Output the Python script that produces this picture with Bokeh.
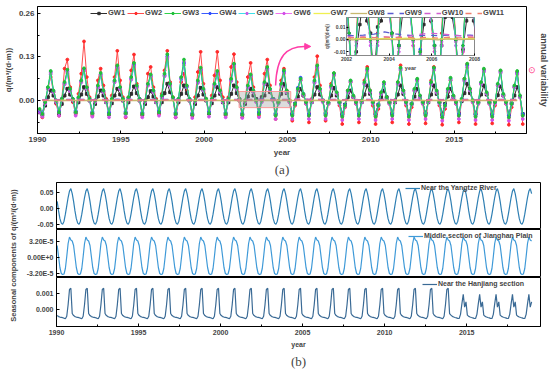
import numpy as np
from bokeh.plotting import figure
from bokeh.layouts import column, row
from bokeh.models import (Range1d, FixedTicker, NumeralTickFormatter, CustomJSTickFormatter,
                          Legend, LegendItem, BoxAnnotation, Label, Title, Arrow, NormalHead)
from bokeh.embed import file_html
from bokeh.resources import INLINE

# ---------------------------------------------------------------- data (a)
# q in 1e-3 m3/(d*m); six readings per year (Feb, Apr, Jun, Aug, Oct, Dec) 1990-2018, last = Feb 2019
YEARS_A = list(range(1990, 2019))
MONTHS_A = [2, 4, 6, 8, 10, 12]
GW1 = [-35,-42,-15,10,30,15, -5,-38,-10,15,35,18, 0,-35,-5,18,40,20, 0,-38,-10,12,30,15,
       -5,-40,-8,15,35,18, 0,-38,-5,20,42,22, 0,-40,-10,10,28,12, -5,-35,-5,22,50,25,
       5,-40,-5,20,45,22, 0,-42,-10,15,38,18, 0,-38,-8,15,40,20, -5,-40,-5,20,45,22,
       0,-42,-10,12,35,15, 5,-35,10,15,48,25, 5,-40,-5,20,50,22, 0,-40,-10,12,35,15,
       -5,-40,-5,18,40,18, 0,-38,-8,15,38,15, -5,-40,-12,10,30,10, -5,-38,-5,18,45,20,
       -5,-40,-12,10,30,10, -5,-38,-5,18,45,20, -5,-40,-10,12,35,12, -5,-38,-5,18,45,20,
       -5,-40,-10,12,35,12, -5,-38,-2,22,50,22, 0,-40,-5,18,45,18, -5,-40,-5,16,42,15,
       -5,-42,-8,15,40,12, -40]
GW2 = [-30,-50,-5,35,70,25, -10,-45,5,95,122,40, -5,-40,20,80,176,70, 10,-45,0,60,95,45,
       5,-40,15,70,148,60, 10,-50,10,90,137,50, 5,-45,0,80,100,40, 5,-40,20,90,148,55,
       10,-50,-5,55,80,30, 0,-45,10,85,145,50, 5,-40,15,75,145,60, 10,-45,10,100,138,55,
       5,-50,0,70,112,40, 0,-45,5,80,122,45, 5,-55,0,60,95,30, -5,-60,-15,30,60,15,
       -10,-65,5,70,132,45, 0,-60,-10,50,80,20, -15,-70,-20,30,55,10, -10,-65,0,60,100,30,
       -15,-70,-25,20,50,5, -10,-65,-5,55,105,30, -15,-70,-20,30,62,10, -10,-68,0,60,100,25,
       -15,-72,-25,25,60,5, -10,-65,0,65,108,35, -5,-70,-10,50,92,20, -10,-68,-15,45,88,15,
       -10,-72,-20,40,85,10, -70]
GW3 = [-25,-40,-5,40,88,30, 0,-35,5,55,92,35, 5,-35,10,60,96,40, 5,-38,0,45,82,30,
       0,-40,5,60,105,40, 5,-38,10,70,112,45, 5,-40,0,50,78,30, 0,-35,15,80,138,50,
       10,-40,5,70,122,45, 5,-42,0,60,98,35, 5,-38,5,50,88,30, 0,-40,5,65,110,40,
       5,-42,0,45,78,30, 0,-40,0,55,100,35, 5,-45,-5,50,90,30, 0,-45,-10,35,65,20,
       -5,-45,0,60,105,35, 0,-45,-5,45,82,25, -5,-48,-15,30,60,15, -5,-45,0,55,95,30,
       -5,-48,-15,25,55,10, -5,-45,0,55,98,30, -5,-48,-10,35,65,15, -5,-45,0,55,98,30,
       -5,-50,-15,35,68,15, -5,-45,5,65,110,35, 0,-48,-5,55,95,25, -5,-48,-5,50,90,20,
       -5,-50,-10,45,88,15, -45]
GW4 = [-30,-35,-5,38,85,28, 0,-32,5,52,88,32, 5,-30,8,58,94,38, 5,-33,0,42,78,28,
       0,-35,5,58,100,38, 5,-33,8,66,106,42, 5,-35,0,48,74,28, 0,-30,12,76,132,48,
       8,-35,5,66,112,42, 5,-37,0,56,92,33, 5,-33,5,48,82,28, 0,-35,5,62,108,38,
       5,-37,0,42,74,28, 0,-35,0,52,95,33, 5,-40,-5,48,85,28, 0,-40,-8,38,68,20,
       -5,-40,0,56,100,33, 0,-40,-5,42,78,23, -5,-42,-12,28,58,13, -5,-40,0,52,92,28,
       -5,-42,-12,22,50,8, -5,-40,0,52,95,28, -5,-42,-8,32,62,13, -5,-40,0,52,96,28,
       -5,-45,-12,32,65,13, -5,-40,5,62,105,33, 0,-42,-5,52,90,23, -5,-42,-5,48,86,18,
       -5,-45,-8,42,82,13, -40]
GW5 = [-28,-38,-8,36,82,26, -2,-36,3,50,86,30, 3,-36,6,56,90,36, 3,-38,-2,40,76,26,
       -2,-40,3,56,98,36, 3,-38,6,64,104,40, 3,-40,-2,46,72,26, -2,-36,10,74,128,46,
       6,-40,3,68,116,44, 3,-42,-2,56,94,32, 3,-38,3,46,80,26, -2,-40,3,60,104,36,
       3,-42,-2,40,72,26, -2,-40,-2,50,92,32, 3,-45,-7,46,82,26, -2,-45,-10,34,62,18,
       -7,-45,-2,54,98,32, -2,-45,-7,40,76,22, -7,-48,-15,26,56,12, -7,-45,-2,50,90,26,
       -7,-48,-15,22,52,8, -7,-45,-2,50,92,26, -7,-48,-10,30,60,12, -7,-45,-2,50,92,26,
       -7,-50,-15,30,62,12, -7,-45,3,60,100,32, -2,-48,-7,50,88,22, -7,-48,-7,46,84,16,
       -7,-50,-10,40,80,12, -45]
GW6 = [-35,-48,-10,34,78,24, -5,-45,0,48,82,28, 0,-45,4,54,88,34, 0,-48,-5,38,72,24,
       -5,-50,0,54,96,34, 0,-48,4,62,100,38, 0,-50,-5,44,70,24, -5,-45,8,72,124,44,
       4,-50,0,62,106,40, 0,-52,-5,52,90,30, 0,-48,0,44,78,24, -5,-50,0,58,100,34,
       0,-52,-5,38,70,24, -5,-50,-5,48,90,30, 0,-55,-10,44,80,24, -5,-55,-12,32,60,16,
       -10,-55,-5,52,95,30, -5,-55,-10,38,74,20, -10,-58,-18,24,54,10, -10,-55,-5,48,88,24,
       -10,-58,-18,20,48,6, -10,-55,-5,48,90,24, -10,-58,-12,28,58,10, -10,-55,-5,48,90,24,
       -10,-60,-18,28,60,10, -10,-55,0,58,98,30, -5,-58,-10,48,85,20, -10,-58,-10,44,82,14,
       -10,-60,-12,38,78,10, -55]
# near-zero wells: two readings per year (Apr, Oct), 1e-3 m3/(d*m)
MONTHS_M = [4, 10]
GW7 = [0.3,0.8, 0.2,0.9, 0.3,0.8, 0.4,0.9, 0.2,0.7, 0.3,0.8, 0.4,0.9, 0.3,1.0, 0.2,0.8, 0.3,0.7,
       0.4,0.8, 0.3,0.9, 0.2,0.8, 0.3,0.9, 0.4,1.0, 0.3,0.8, 0.2,0.7, 0.3,0.8, 0.4,0.9, 0.3,0.8,
       0.2,0.7, 0.3,0.9, 0.4,0.8, 0.3,0.8, 0.2,0.7, 0.3,0.9, 0.4,0.8, 0.3,0.7, 0.2,0.8]
GW8 = [-0.3,0.3, -0.2,0.4, -0.3,0.2, -0.1,0.3, -0.2,0.4, -0.3,0.3, -0.2,0.2, -0.1,0.4, -0.3,0.3, -0.2,0.2,
       -0.1,0.3, -0.2,0.4, -0.3,0.2, -0.2,0.3, -0.1,0.2, -0.2,0.3, -0.3,0.4, -0.2,0.3, -0.1,0.2, -0.2,0.3,
       -0.3,0.4, -0.2,0.3, -0.1,0.2, -0.2,0.3, -0.3,0.4, -0.2,0.3, -0.1,0.2, -0.2,0.3, -0.3,0.2]
GW9 = [2.8,3.6, 2.9,3.8, 3.0,3.7, 2.8,3.5, 3.0,3.9, 3.1,3.8, 2.9,3.6, 3.0,3.8, 3.1,3.9, 2.9,3.7,
       3.0,3.6, 3.1,3.8, 3.0,3.4, 4.2,6.0, 4.5,3.4, 3.0,3.3, 3.1,3.4, 3.0,3.5, 2.9,3.6, 3.0,3.7,
       3.1,3.6, 3.0,3.8, 2.9,3.7, 3.0,3.6, 3.1,3.8, 3.0,3.7, 2.9,3.6, 3.0,3.8, 3.1,3.7]
GW10 = [1.8,2.6, 1.9,2.8, 2.0,2.7, 1.8,2.5, 2.0,2.9, 2.1,2.8, 1.9,2.6, 2.0,2.8, 2.1,2.9, 1.9,2.7,
        2.0,2.6, 2.1,2.8, 1.6,2.0, 1.5,2.1, 1.7,2.2, 3.6,5.0, 4.6,3.8, 3.0,2.8, 2.2,2.7, 2.0,2.8,
        2.1,2.6, 2.0,2.8, 1.9,2.7, 2.0,2.6, 2.1,2.8, 2.0,2.7, 1.9,2.6, 2.0,2.8, 2.1,2.7]
GW11 = [1.2,1.8, 1.3,1.9, 1.2,1.7, 1.1,1.8, 1.3,1.9, 1.2,1.8, 1.1,1.7, 1.2,1.9, 1.3,1.8, 1.2,1.7,
        1.1,1.8, 1.2,1.9, 1.3,1.8, 1.4,1.9, 1.3,1.8, 1.2,1.7, 1.1,1.8, 1.2,1.9, 1.3,1.8, 1.2,1.7,
        1.1,1.8, 1.2,1.9, 1.3,1.8, 1.2,1.7, 1.1,1.8, 1.2,1.9, 1.3,1.8, 1.2,1.7, 1.1,1.8]
A_XTICKS = [1990, 1995, 2000, 2005, 2010, 2015]
A_YTICKS = [0.0, 0.13, 0.26]
INSET_XTICKS = [2002, 2004, 2006, 2008]
INSET_YTICKS = [-0.01, 0.0, 0.01]

# ---------------------------------------------------------------- data (b)
YEARS_B = list(range(1990, 2019))
YANGTZE_CYCLE = [22, -8, -32, -46, -50, -40, -18, 8, 34, 54, 62, 46]          # 1e-3, Jan..Dec
JIANGHAN_CYCLE = [24, 2, -20, -32, -34, -33, -22, 2, 28, 41, 35, 33]           # 1e-6, Jan..Dec
HANJIANG_CYCLE_1990_2013 = [-380, -440, -470, -490, -510, -540, -580, -420, 300, 1250, 1330, -250]  # 1e-6
HANJIANG_CYCLE_2014_2018 = [-350, -430, -470, -500, -520, -550, -560, -300, 350, 950, 150, 480]     # 1e-6
B1_TICKS = [-0.05, 0.0, 0.05]
B2_TICKS = [-3.2e-5, 0.0, 3.2e-5]
B3_TICKS = [0.0, 0.001]

FONT = "Liberation Sans"

t_a = [y + (m - 0.5) / 12 for y in YEARS_A for m in MONTHS_A] + [2019 + 1.5 / 12]
t_m = [y + (m - 0.5) / 12 for y in YEARS_A for m in MONTHS_M]
t_b = [y + (m + 0.5) / 12 for y in YEARS_B for m in range(12)]

yangtze = np.tile(YANGTZE_CYCLE, len(YEARS_B)) / 1e3
jianghan = np.tile(JIANGHAN_CYCLE, len(YEARS_B)) / 1e6
hanjiang = np.concatenate([np.tile(HANJIANG_CYCLE_1990_2013, 24),
                           np.tile(HANJIANG_CYCLE_2014_2018, 5)]) / 1e6


def style(p, fs="8px"):
    p.outline_line_color = "black"
    p.xgrid.visible = False
    p.ygrid.visible = False
    p.background_fill_color = "white"
    for ax in p.axis:
        ax.major_label_text_font = FONT
        ax.major_label_text_font_style = "bold"
        ax.major_label_text_font_size = fs
        ax.axis_label_text_font = FONT
        ax.axis_label_text_font_style = "bold"
        ax.axis_label_text_font_size = fs
        ax.major_tick_in = 3
        ax.major_tick_out = 0
        ax.minor_tick_in = 2
        ax.minor_tick_out = 0
        ax.axis_line_color = "black"
        ax.major_label_standoff = 3
        ax.axis_label_standoff = 3


SER_A = [
    ("GW1", GW1, "#2d2d2d", "#2d2d2d", "square"),
    ("GW2", GW2, "#ff4a4a", "#ff2a2a", "circle"),
    ("GW3", GW3, "#2fd24a", "#1fbf3a", "circle"),
    ("GW4", GW4, "#3a5cff", "#2f4fff", "circle"),
    ("GW5", GW5, "#3ce0e8", "#c65ce8", "circle"),
    ("GW6", GW6, "#f070f0", "#d050e8", "circle"),
]
SER_M = [
    ("GW7", GW7, "#f0f050", "solid"),
    ("GW8", GW8, "#c8b870", "solid"),
    ("GW9", GW9, "#5a5ad0", "dashed"),
    ("GW10", GW10, "#d060d0", "dashed"),
    ("GW11", GW11, "#f08070", "dashed"),
]


def draw_series(p, msize, lw):
    rend = {}
    order = ["GW2", "GW1", "GW6", "GW4", "GW5", "GW3"]
    lookup = {s[0]: s for s in SER_A}
    for name in order:
        _, vals, lc, mc, mk = lookup[name]
        y = np.array(vals) / 1e3
        rl = p.line(t_a, y, line_color=lc, line_width=lw)
        rs = p.scatter(t_a, y, marker=mk, size=msize, fill_color=mc, line_color=mc)
        rend[name] = [rl, rs]
    for name, vals, lc, dash in SER_M:
        r = p.line(t_m, np.array(vals) / 1e3, line_color=lc, line_width=lw * 1.3, line_dash=dash)
        rend[name] = [r]
    return rend


# ---------------------------------------------------------------- panel (a)
pa = figure(width=550, height=180, x_range=Range1d(1990, 2019.35), y_range=Range1d(-0.098, 0.28),
            output_backend="svg", toolbar_location=None,
            min_border_left=35, min_border_right=22, min_border_top=6, min_border_bottom=47)
style(pa, "8px")
pa.xaxis.ticker = FixedTicker(ticks=A_XTICKS, minor_ticks=[1992.5, 1997.5, 2002.5, 2007.5, 2012.5, 2017.5])
pa.yaxis.ticker = FixedTicker(ticks=A_YTICKS, minor_ticks=[-0.065, 0.065, 0.195])
pa.yaxis.formatter = NumeralTickFormatter(format="0.00")
pa.xaxis.axis_label = "year"
pa.yaxis.axis_label = "q/(m³/(d·m))"

rend = draw_series(pa, 2.8, 1)

pa.add_layout(BoxAnnotation(left=2002.1, right=2005.2, bottom=-0.021, top=0.027,
                            fill_color="#9a9a9a", fill_alpha=0.35, line_color="#ff9090", line_alpha=0.9))
pa.bezier(x0=[2004.29], y0=[0.045], x1=[2006.2], y1=[0.161], cx0=[2004.35], cy0=[0.13],
          cx1=[2004.9], cy1=[0.165], line_color="#ff3da8", line_width=1.5)
pa.add_layout(Arrow(end=NormalHead(size=6, fill_color="#ff3da8", line_color="#ff3da8"),
                    x_start=2006.0, y_start=0.161, x_end=2006.4, y_end=0.161,
                    line_color="#ff3da8", line_width=1.5))

items = [LegendItem(label=n, renderers=rend[n]) for n in
         ["GW1", "GW2", "GW3", "GW4", "GW5", "GW6", "GW7", "GW8", "GW9", "GW10", "GW11"]]
leg = Legend(items=items, orientation="horizontal", location=(53, 116),
             label_text_font=FONT, label_text_font_style="bold", label_text_font_size="7.5px",
             glyph_width=17, glyph_height=6, label_standoff=1, label_width=0, spacing=2,
             padding=0, margin=0, label_height=7, border_line_alpha=0, background_fill_alpha=0)
pa.add_layout(leg)
pa.add_layout(Title(text="(a)", align="center", offset=-6, text_font="Liberation Serif",
                    text_font_size="13px", text_font_style="normal", standoff=0), "below")
# right-hand key: pink symbol (inner) and the 'annual variability' caption (outer)
pa.add_layout(Title(text="⊙", align="center", offset=37, text_font="DejaVu Sans",
                    text_font_size="9px", text_font_style="normal", text_color="#ff3d8a",
                    standoff=0), "right")
pa.add_layout(Title(text="annual variability", align="center", offset=-5, text_font=FONT,
                    text_font_size="9px", text_font_style="bold", standoff=0), "right")

# ---------------------------------------------------------------- inset
ins = figure(width=189, height=60, x_range=Range1d(2002, 2008), y_range=Range1d(-0.013, 0.0177),
             output_backend="svg", toolbar_location=None,
             min_border_left=32, min_border_right=4, min_border_top=4, min_border_bottom=16,
             styles={"position": "absolute", "left": "309px", "top": "13px"})
style(ins, "5px")
ins.border_fill_alpha = 0
ins.outline_line_color = "#888888"
ins.xaxis.ticker = FixedTicker(ticks=INSET_XTICKS)
ins.yaxis.ticker = FixedTicker(ticks=INSET_YTICKS)
ins.yaxis.formatter = NumeralTickFormatter(format="0.00")
ins.xaxis.axis_label = "year"
ins.yaxis.axis_label = "q/(m³/(d·m))"
ins.xaxis.axis_label_text_font_size = "5.5px"
ins.yaxis.axis_label_text_font_size = "4.5px"
for ax in ins.axis:
    ax.major_label_standoff = 1
    ax.axis_label_standoff = 1
    ax.major_tick_in = 2
    ax.axis_line_color = "#888888"
draw_series(ins, 2.5, 1)

# ---------------------------------------------------------------- panel (b)
xb = Range1d(1990, 2019.5)


def bfig(h, top, bottom, yr, ticks, xaxis):
    p = figure(width=528, height=h, x_range=xb, y_range=yr, output_backend="svg",
               toolbar_location=None, min_border_left=34, min_border_right=10,
               min_border_top=top, min_border_bottom=bottom,
               x_axis_location="below" if xaxis else None)
    style(p, "7px")
    p.yaxis.ticker = FixedTicker(ticks=ticks)
    return p


b1 = bfig(49, 2, 0, Range1d(-0.066, 0.081), B1_TICKS, False)
b1.yaxis.formatter = NumeralTickFormatter(format="0.00")
r1 = b1.line(t_b, yangtze, line_color="#2f7fb3", line_width=1.2)

b2 = bfig(48, 0, 0, Range1d(-4.0e-5, 5.6e-5), B2_TICKS, False)
b2.yaxis.formatter = CustomJSTickFormatter(code="return tick.toExponential(2).toUpperCase();")
r2 = b2.line(t_b, jianghan, line_color="#3f9ad8", line_width=1.2)

b3 = bfig(92, 0, 43, Range1d(-0.00106, 0.002), B3_TICKS, True)
b3.yaxis.formatter = NumeralTickFormatter(format="0.000")
b3.xaxis.ticker = FixedTicker(ticks=A_XTICKS, minor_ticks=[1992.5, 1997.5, 2002.5, 2007.5, 2012.5, 2017.5])
b3.xaxis.axis_label = "year"
r3 = b3.line(t_b, hanjiang, line_color="#3a6a95", line_width=1.2)
b3.add_layout(Title(text="(b)", align="center", offset=-23, text_font="Liberation Serif",
                    text_font_size="13px", text_font_style="normal", standoff=2), "below")

for p, r, lab, loc in [(b1, r1, "Near the Yangtze River", (349, 38)),
                       (b2, r2, "Middle section of Jianghan Plain", (352, 38)),
                       (b3, r3, "Near the Hanjiang section", (366, 39))]:
    lg = Legend(items=[LegendItem(label=lab, renderers=[r])], location=loc,
                label_text_font=FONT, label_text_font_style="bold", label_text_font_size="7px",
                glyph_width=15, glyph_height=6, label_standoff=1, label_width=0, padding=0, margin=0,
                label_height=7, border_line_alpha=0, background_fill_alpha=0)
    p.add_layout(lg)

bl = figure(width=22, height=189, x_range=Range1d(0, 22), y_range=Range1d(0, 189),
            output_backend="svg", toolbar_location=None, min_border=0,
            x_axis_location=None, y_axis_location=None)
bl.outline_line_color = None
bl.xgrid.visible = False
bl.ygrid.visible = False
bl.add_layout(Label(x=13, y=114, text="Seasonal components of q/(m³/(d·m))", angle=np.pi / 2,
                    text_font=FONT, text_font_style="bold", text_font_size="7.5px",
                    text_align="center", text_baseline="middle"))

root = column(pa, row(bl, column(b1, b2, b3)), ins,
              styles={"position": "absolute", "left": "0px", "top": "0px"})

open("out.html", "w").write(file_html(root, INLINE))
